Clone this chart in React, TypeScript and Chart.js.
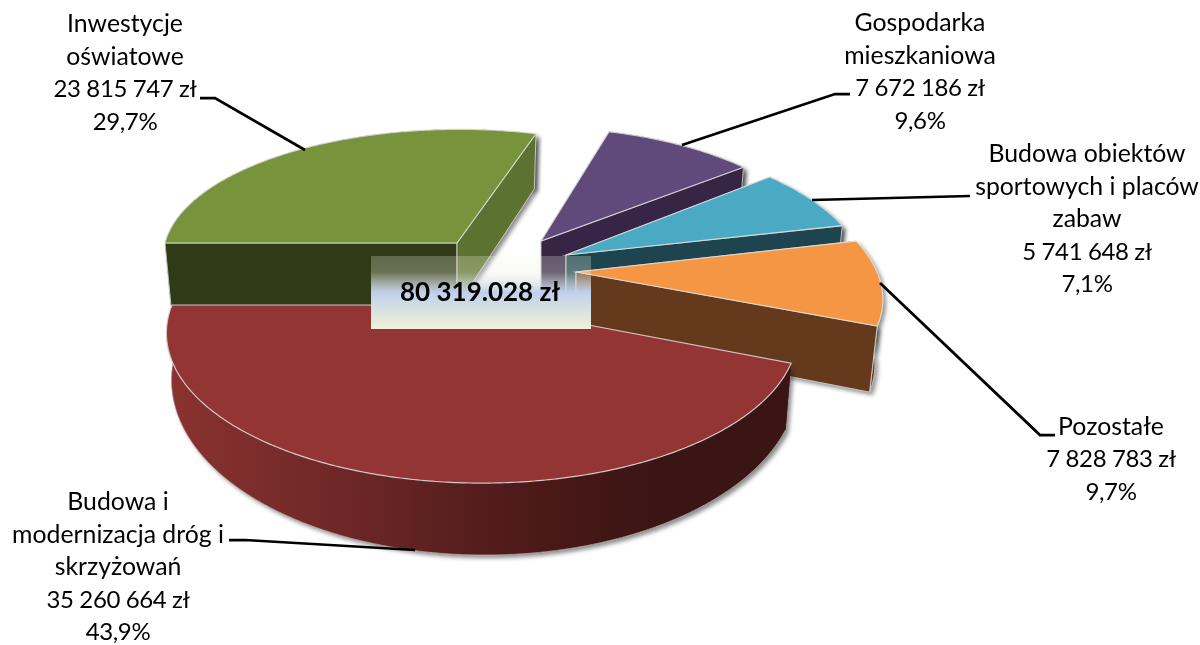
import React, { useEffect, useRef } from "react";
import { Chart, registerables } from "chart.js";

Chart.register(...registerables);

const categories = [
  ["Inwestycje", "oświatowe"],
  ["Gospodarka", "mieszkaniowa"],
  ["Budowa obiektów", "sportowych i placów", "zabaw"],
  ["Pozostałe"],
  ["Budowa i", "modernizacja dróg i", "skrzyżowań"],
];
const values = [23815747, 7672186, 5741648, 7828783, 35260664];
const totalLabel = "80 319.028 zł";

const topColors = ["#77933c", "#604a7b", "#4aa9c3", "#f59645", "#933534"];
const startWallColors = ["#303a16", "#362545", "#1e4450", "#653a1c", "#3a1412"];
const endWallColors = ["#5b7230", "#362545", "#1e4450", "#653a1c", "#3a1412"];

// Per-slice explosion (relative to the pie centre) and perspective of the projected disc.
// Each disc has an upper and a lower rim, with their own perspective.
const explode = [
  [-143, -79.5],
  [-59, -81.5],
  [-34, -67.5],
  [-24, -50.5],
  [-118, -17.5],
];
const discs = [
  { rx: 292, ry: 125, sk: -2.5, p: 0.1, depth: 63, dx: 0, rx2: 286, ry2: 134, p2: 0.1 },
  { rx: 282, ry: 125, sk: 7, p: 0.1, depth: 60, dx: 0, rx2: 276, ry2: 131, p2: 0.1 },
  { rx: 295, ry: 132, sk: 21, p: 0.1, depth: 60, dx: 0, rx2: 289, ry2: 139, p2: 0.1 },
  { rx: 301, ry: 139, sk: 29, p: 0.1, depth: 63, dx: 0, rx2: 293, ry2: 147, p2: 0.1 },
  { rx: 310, ry: 144.8, sk: 0, p: 0.187, depth: 57.5, dx: 3, rx2: 312, ry2: 173.3, p2: 0.1 },
];

// Label layout: centre x, first line centre y, and leader polylines
const labelCenters = [
  [125, 24],
  [920, 23],
  [1087, 154],
  [1111, 427],
  [118, 502],
];
const leaders = [
  [[200, 98], [215, 98], [305, 150]],
  [[850, 94], [835, 94], [682, 145]],
  [[970, 196], [812, 200]],
  [[1055, 435], [1040, 435], [880, 283]],
  [[229, 540], [245, 540], [415, 550]],
];

const TEXT_FONT = "24.8px Lato, Carlito, sans-serif";
const NUMBER_FONT = "24px Lato, Carlito, sans-serif";
const LINE_H = 32.6;

const fmtMoney = (v: number) =>
  String(v).replace(/\B(?=(\d{3})+(?!\d))/g, " ") + " zł";
const fmtPct = (v: number, total: number) =>
  ((v / total) * 100).toFixed(1).replace(".", ",") + "%";

const pie3d = {
  id: "pie3d",
  beforeDatasetsDraw(chart: any) {
    const ctx: any = chart.ctx;
    const arcs = chart.getDatasetMeta(0).data;
    arcs.forEach((el: any, i: number) => {
      const d = discs[i];
      const ax = el.x + explode[i][0];
      const ay = el.y + explode[i][1];
      const project = (t: number, low: boolean) => {
        const c = Math.cos(t);
        const s = Math.sin(t);
        if (low) {
          const w = 1 - d.p2 * s;
          return [ax + d.dx + (d.rx2 * c + d.sk * s) / w, ay + d.depth + (d.ry2 * s) / w];
        }
        const w = 1 - d.p * s;
        return [ax + (d.rx * c + d.sk * s) / w, ay + (d.ry * s) / w];
      };
      const a0 = el.startAngle;
      const a1 = el.endAngle;
      const steps = Math.max(8, Math.ceil((a1 - a0) / 0.01));
      const arcPts = (low: boolean) => {
        const pts: number[][] = [];
        for (let s = 0; s <= steps; s++) pts.push(project(a0 + ((a1 - a0) * s) / steps, low));
        return pts;
      };
      const top = arcPts(false);
      const bot = arcPts(true);
      const apexT = [ax, ay];
      const apexB = [ax + d.dx, ay + d.depth];
      const poly = (pts: number[][], close = true) => {
        ctx.beginPath();
        pts.forEach((p, k) => (k ? ctx.lineTo(p[0], p[1]) : ctx.moveTo(p[0], p[1])));
        if (close) ctx.closePath();
      };
      const outer = [...top, ...[...bot].reverse()];
      const startWall = [apexT, top[0], bot[0], apexB];
      const endWall = [apexT, top[steps], bot[steps], apexB];
      const face = [apexT, ...top];
      const isFront = i === 4; // the front slice hides its own cut walls

      // soft drop shadow of the whole block
      ctx.save();
      ctx.shadowColor = "rgba(0,0,0,0.45)";
      ctx.shadowBlur = 4;
      ctx.shadowOffsetX = 3;
      ctx.shadowOffsetY = 3;
      ctx.fillStyle = endWallColors[i];
      poly(outer);
      ctx.fill();
      if (!isFront) {
        poly(endWall);
        ctx.fill();
        poly(startWall);
        ctx.fill();
      }
      ctx.restore();

      // outer wall
      const xs = bot.map((p) => p[0]);
      const g = ctx.createLinearGradient(Math.min(...xs), 0, Math.max(...xs), 0);
      if (isFront) {
        g.addColorStop(0, "#8a3230");
        g.addColorStop(0.36, "#652423");
        g.addColorStop(0.5, "#541d1c");
        g.addColorStop(0.68, "#431716");
        g.addColorStop(0.8, "#3a1514");
        g.addColorStop(1, "#3a1514");
      } else {
        g.addColorStop(0, endWallColors[i]);
        g.addColorStop(1, endWallColors[i]);
      }
      ctx.fillStyle = g;
      poly(outer);
      ctx.fill();
      ctx.strokeStyle = "rgba(215,215,215,0.85)";
      ctx.lineWidth = 1;
      if (i === 3) {
        poly(outer);
        ctx.stroke();
      }
      if (isFront) {
        ctx.strokeStyle = "rgba(215,215,215,0.6)";
        poly(bot, false);
        ctx.stroke();
      } else {
        // cut walls
        ctx.fillStyle = startWallColors[i];
        poly(startWall);
        ctx.fill();
        ctx.stroke();
        ctx.fillStyle = endWallColors[i];
        poly(endWall);
        ctx.fill();
        ctx.stroke();
      }

      // top face
      ctx.fillStyle = el.options.backgroundColor;
      poly(face);
      ctx.fill();
      ctx.strokeStyle = "rgba(225,225,225,0.85)";
      ctx.lineWidth = 1.2;
      ctx.stroke();
    });

    // leader lines
    ctx.save();
    ctx.strokeStyle = "#000";
    ctx.lineWidth = 2.75;
    leaders.forEach((l) => {
      ctx.beginPath();
      l.forEach((p, k) => (k ? ctx.lineTo(p[0], p[1]) : ctx.moveTo(p[0], p[1])));
      ctx.stroke();
    });
    ctx.restore();

    // centre label
    const bx = 371, by = 256, bw = 220, bh = 73;
    const lg = ctx.createLinearGradient(0, by, 0, by + bh);
    lg.addColorStop(0, "rgba(242,245,228,0.25)");
    lg.addColorStop(0.22, "rgba(240,243,226,0.3)");
    lg.addColorStop(0.5, "rgba(192,208,234,1)");
    lg.addColorStop(1, "rgba(240,243,215,1)");
    ctx.fillStyle = lg;
    ctx.fillRect(bx, by, bw, bh);
    ctx.fillStyle = "#000";
    ctx.font = "bold 26px Lato, Carlito, sans-serif";
    ctx.textAlign = "center";
    ctx.textBaseline = "middle";
    ctx.fillText(totalLabel, 480, 293);

    // slice labels
    const total = values.reduce((a, b) => a + b, 0);
    categories.forEach((lines, i) => {
      const n = lines.length;
      const all = [...lines, fmtMoney(values[i]), fmtPct(values[i], total)];
      all.forEach((t, k) => {
        const isNumber = k >= n;
        ctx.font = isNumber ? NUMBER_FONT : TEXT_FONT;
        ctx.letterSpacing = isNumber ? "-0.4px" : "0px";
        ctx.fillText(t, labelCenters[i][0], labelCenters[i][1] + k * LINE_H);
      });
    });
    ctx.letterSpacing = "0px";
    return false;
  },
};

export default function App() {
  const ref = useRef<HTMLCanvasElement>(null);
  useEffect(() => {
    document.body.style.margin = "0";
    document.body.style.background = "#fff";
    const chart = new Chart(ref.current!, {
      type: "pie",
      data: {
        labels: categories.map((c) => c.join(" ")),
        datasets: [{ data: values, backgroundColor: topColors, borderWidth: 0 }],
      },
      options: {
        responsive: false,
        animation: false,
        rotation: -90,
        layout: { padding: 0 },
        plugins: { legend: { display: false }, tooltip: { enabled: false } },
      },
      plugins: [pie3d],
    } as any);
    return () => chart.destroy();
  }, []);
  return (
    <canvas ref={ref} width={1200} height={645} style={{ display: "block", width: 1200, height: 645 }} />
  );
}
